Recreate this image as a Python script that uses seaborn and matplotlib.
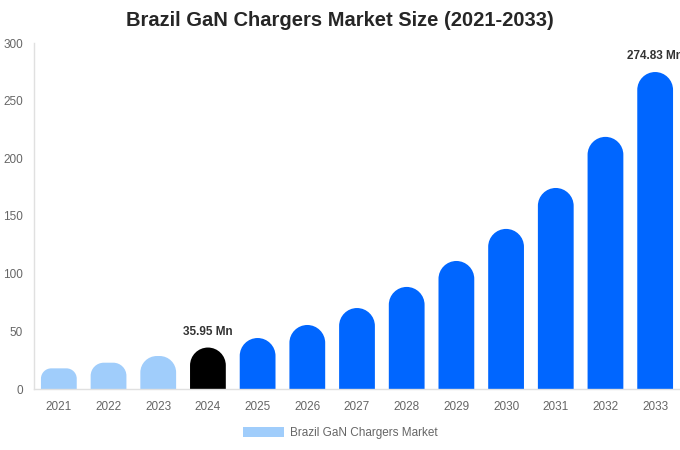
import numpy as np
import pandas as pd
import matplotlib
matplotlib.use("Agg")
import matplotlib.pyplot as plt
import seaborn as sns
from matplotlib.path import Path
from matplotlib.patches import PathPatch, Patch

# Données (Mn)
annees = [str(a) for a in range(2021, 2034)]
valeurs = [17.9, 22.8, 28.6, 35.95, 44.2, 55.5, 70.2, 88.5, 111.0, 138.8, 174.3, 218.6, 274.83]
couleurs = ["#A0CDFB"] * 3 + ["#000000"] + ["#0066FF"] * 9
etiquettes = {"2024": "35.95 Mn", "2033": "274.83 Mn"}
titre = "Brazil GaN Chargers Market Size (2021-2033)"
legende = "Brazil GaN Chargers Market"

df = pd.DataFrame({"annee": annees, "valeur": valeurs})

sns.set_style("white")
plt.rcParams["font.family"] = ["Liberation Sans", "DejaVu Sans"]

fig = plt.figure(figsize=(6.8, 4.5), dpi=100)
ax = fig.add_axes([34 / 680, 1 - 389 / 450, 1 - 34 / 680, (389 - 43) / 450])

sns.barplot(data=df, x="annee", y="valeur", hue="annee", palette=couleurs,
            width=0.72, legend=False, ax=ax, saturation=1)
ax.set_ylim(0, 300)
ax.set_xlim(-0.5, len(annees) - 0.5)

# échelle pixels / unité pour arrondir le haut des barres
sx = ax.get_window_extent().width / (ax.get_xlim()[1] - ax.get_xlim()[0])
sy = ax.get_window_extent().height / (ax.get_ylim()[1] - ax.get_ylim()[0])
k = 0.5523

for p in list(ax.patches):
    x0, w, h = p.get_x(), p.get_width(), p.get_height()
    coul = p.get_facecolor()
    p.set_visible(False)
    r = min(w * sx / 2, h * sy / 2)
    rx, ry = r / sx, r / sy
    x1 = x0 + w
    verts = [(x0, 0), (x0, h - ry),
             (x0, h - ry + k * ry), (x0 + rx - k * rx, h), (x0 + rx, h),
             (x1 - rx, h),
             (x1 - rx + k * rx, h), (x1, h - ry + k * ry), (x1, h - ry),
             (x1, 0), (x0, 0)]
    codes = [Path.MOVETO, Path.LINETO,
             Path.CURVE4, Path.CURVE4, Path.CURVE4,
             Path.LINETO,
             Path.CURVE4, Path.CURVE4, Path.CURVE4,
             Path.LINETO, Path.CLOSEPOLY]
    ax.add_patch(PathPatch(Path(verts, codes), facecolor=coul, edgecolor="none"))

for i, a in enumerate(annees):
    if a in etiquettes:
        ax.annotate(etiquettes[a], (i, valeurs[i]), xytext=(0, 7), textcoords="offset points",
                    ha="center", va="bottom", fontsize=8.5, fontweight="bold",
                    color="#333333", annotation_clip=False, clip_on=False)

ax.set_xlabel("")
ax.set_ylabel("")
ax.set_yticks([0, 50, 100, 150, 200, 250, 300])
ax.tick_params(axis="both", length=0, labelsize=8.5, labelcolor="#666666")
ax.tick_params(axis="y", pad=8)
ax.tick_params(axis="x", pad=9)
for s in ["top", "right"]:
    ax.spines[s].set_visible(False)
for s in ["left", "bottom"]:
    ax.spines[s].set_color("#E0E0E0")
    ax.spines[s].set_linewidth(1)

fig.suptitle(titre, x=0.5, y=1 - 21 / 450, va="center", fontsize=14.5, fontweight="bold")

fig.legend(handles=[Patch(facecolor="#A0CDFB", edgecolor="none", label=legende)],
           loc="center", bbox_to_anchor=(0.5, 1 - 433 / 450), frameon=False,
           fontsize=8.5, labelcolor="#666666", handlelength=3.5, handleheight=1.0,
           handletextpad=0.5)

fig.savefig("out.png", dpi=100)
